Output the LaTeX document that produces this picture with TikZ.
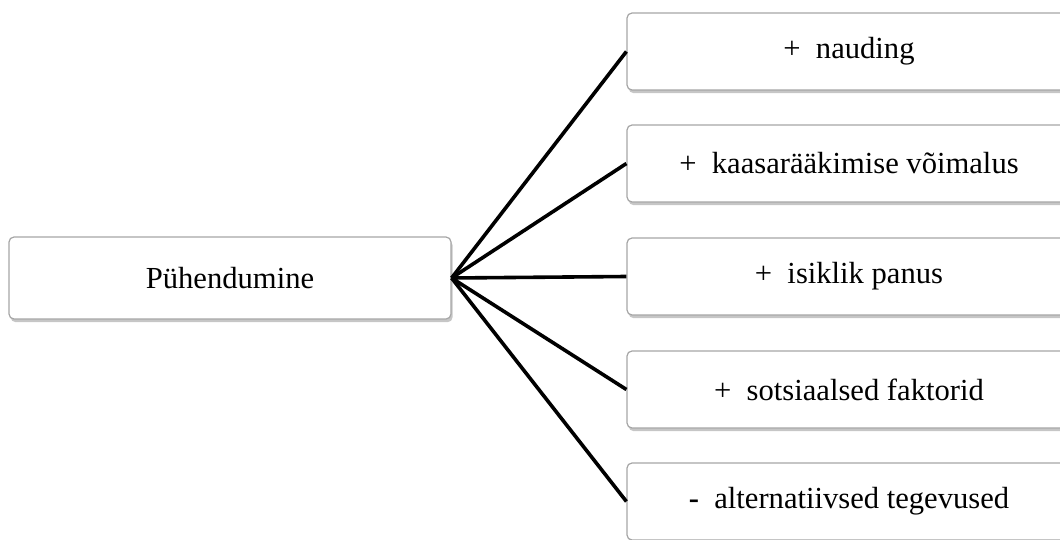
\documentclass[tikz,border=0pt]{standalone}
\usepackage{fontspec}
\setmainfont{Liberation Serif}
\usetikzlibrary{shadows,positioning}

\begin{document}
\begin{tikzpicture}[x=0.5pt, y=-0.5pt, semithick]

%====Definizione stile scatole================================================

	\tikzstyle{every node}=[font=\fontsize{15.3}{18}\selectfont]
	\tikzstyle{kast}=[draw=gray!70, fill=white, rounded corners=2.5pt, inner sep=0pt,
		drop shadow={opacity=0.45, shadow xshift=0.8pt, shadow yshift=-1.6pt}]
	\tikzstyle{juur}=[kast, minimum width=221pt, minimum height=41pt]
	\tikzstyle{haru}=[kast, minimum width=222pt, minimum height=38.5pt]
	\tikzstyle{joon}=[draw=black, line width=1.8pt]

	\clip (0,0) rectangle (1060,540);

%====Definizione scatole e posizione===========================================
	\node[juur]	(P)	at (230,278)	{P\"uhendumine};
	\node[haru]	(N)	at (849,51.5)	{+\hspace{0.5em}nauding};
	\node[haru]	(K)	at (849,163.5)	{+\hspace{0.5em}kaasar\"a\"akimise v\~oimalus};
	\node[haru]	(I)	at (849,276.5)	{+\hspace{0.5em}isiklik panus};
	\node[haru]	(S)	at (849,389.5)	{+\hspace{0.5em}sotsiaalsed faktorid};
	\node[haru]	(A)	at (849,501.5)	{\textbf{-}\hspace{0.5em}alternatiivsed tegevused};

%====Definizione collegamenti================================================================
	\path[joon]	(P.east)	edge	(N.west)
				(P.east)	edge	(K.west)
				(P.east)	edge	(I.west)
				(P.east)	edge	(S.west)
				(P.east)	edge	(A.west);
\end{tikzpicture}
\end{document}
